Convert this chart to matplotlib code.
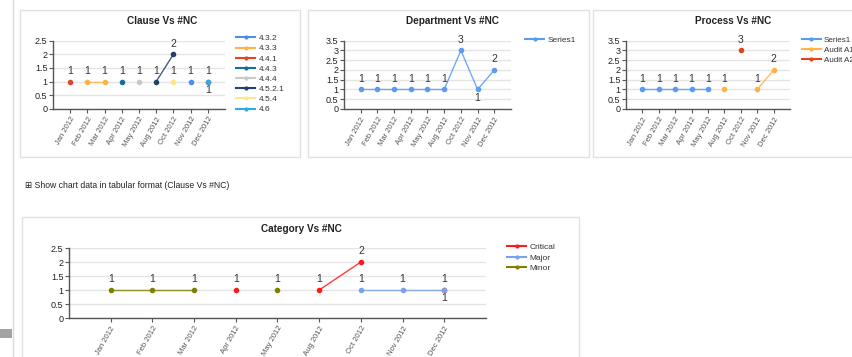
import numpy as np
import matplotlib
matplotlib.use("Agg")
import matplotlib.pyplot as plt
from matplotlib.lines import Line2D
from matplotlib.patches import Rectangle
from matplotlib.ticker import FuncFormatter

plt.rcParams['font.family'] = ['Liberation Sans', 'DejaVu Sans']

W, H = 853, 357
nan = np.nan

months = ["Jan 2012", "Feb 2012", "Mar 2012", "Apr 2012", "May 2012",
          "Aug 2012", "Oct 2012", "Nov 2012", "Dec 2012"]

# Clause Vs #NC
clause_names = ["4.3.2", "4.3.3", "4.4.1", "4.4.3", "4.4.4", "4.5.2.1", "4.5.4", "4.6"]
clause_432 = [nan, nan, nan, nan, nan, nan, nan, 1, nan]
clause_433 = [nan, 1, 1, nan, nan, nan, nan, nan, nan]
clause_441 = [1, nan, nan, nan, nan, nan, nan, nan, 1]
clause_443 = [nan, nan, nan, 1, nan, nan, nan, nan, nan]
clause_444 = [nan, nan, nan, nan, 1, nan, nan, nan, nan]
clause_4521 = [nan, nan, nan, nan, nan, 1, 2, nan, nan]
clause_454 = [nan, nan, nan, nan, nan, nan, 1, nan, nan]
clause_46 = [nan, nan, nan, nan, nan, nan, nan, nan, 1]

# Department Vs #NC
dept_names = ["Series1"]
dept_series1 = [1, 1, 1, 1, 1, 1, 3, 1, 2]

# Process Vs #NC
process_names = ["Series1", "Audit A1", "Audit A2"]
process_series1 = [1, 1, 1, 1, 1, nan, nan, nan, nan]
process_a1 = [nan, nan, nan, nan, nan, 1, nan, 1, 2]
process_a2 = [nan, nan, nan, nan, nan, nan, 3, nan, nan]

# Category Vs #NC
category_names = ["Critical", "Major", "Minor"]
category_critical = [nan, nan, nan, 1, nan, 1, 2, nan, 1]
category_major = [nan, nan, nan, nan, nan, nan, 1, 1, 1]
category_minor = [1, 1, 1, nan, 1, nan, nan, nan, nan]

clause_colors = ["#4a8ff0", "#ffb347", "#e8451e", "#12709e", "#c9c9c9",
                 "#243f6b", "#fde68c", "#2fa9ea"]
dept_colors = ["#5b9bf2"]
process_colors = ["#5b9bf2", "#ffb347", "#e0451c"]
category_colors = ["#ff1a1a", "#7aa2ee", "#808000"]

fig = plt.figure(figsize=(W / 100, H / 100), dpi=100)
fig.patch.set_facecolor("white")


def fx(x):
    return x / W


def fy(y):
    return 1 - y / H


def box(x0, y0, x1, y1, color="#e2e2e2"):
    fig.patches.append(Rectangle((fx(x0), fy(y1)), fx(x1) - fx(x0), fy(y0) - fy(y1),
                                 transform=fig.transFigure, fill=False,
                                 edgecolor=color, linewidth=1.0))


# page furniture
fig.add_artist(Line2D([fx(13), fx(13)], [0, 1], color="#dcdcdc", lw=1.0))
fig.patches.append(Rectangle((0, fy(338)), fx(12), fy(329) - fy(338),
                             transform=fig.transFigure, facecolor="#a3a3a3",
                             edgecolor="none"))
box(20, 10, 300, 157)
box(308, 10, 589, 157)
box(593, 10, 860, 157)
box(22, 217, 579, 370)

fig.text(fx(25), fy(185), "\u229e Show chart data in tabular format (Clause Vs #NC)",
         fontsize=6.2, color="#222222", va="center", ha="left",
         family=["Liberation Sans", "DejaVu Sans"])


def panel(l, r, t, b, ymax, title, title_xy, names, series, colors,
          below, leg_xy, leg_size=6, line_w=1.0):
    ax = fig.add_axes([fx(l), fy(b), fx(r) - fx(l), fy(t) - fy(b)])
    x = np.arange(1, len(months) + 1)
    for i, (vals, c) in enumerate(zip(series, colors)):
        v = np.array(vals, dtype=float)
        ax.plot(x, v, color=c, lw=line_w, alpha=0.85, zorder=3 + i * 0.01)
        ax.plot(x, v, ls="none", marker="o", ms=3.0, color=c, mec=c,
                zorder=4 + i * 0.01)
        for xi, vi in zip(x, v):
            if np.isnan(vi):
                continue
            if (i, xi - 1) in below:
                ax.annotate(f"{vi:g}", (xi, vi), xytext=(0, -2.5),
                            textcoords="offset points", ha="center", va="top",
                            fontsize=7.5, color="#333333")
            else:
                ax.annotate(f"{vi:g}", (xi, vi), xytext=(0, 4),
                            textcoords="offset points", ha="center", va="bottom",
                            fontsize=7.5, color="#333333")
    ax.set_xlim(0, len(months) + 1)
    ax.set_ylim(0, ymax)
    ax.set_yticks(np.arange(0, ymax + 0.01, 0.5))
    ax.yaxis.set_major_formatter(FuncFormatter(lambda v, p: f"{v:g}"))
    ax.set_xticks(x)
    ax.set_xticklabels(months, rotation=60, ha="right", rotation_mode="anchor",
                       fontsize=5.5, color="#333333")
    ax.tick_params(axis="y", labelsize=6.5, colors="#555555", labelcolor="#222222",
                   length=3, width=0.8, pad=1)
    ax.tick_params(axis="x", colors="#555555", length=3, width=0.8, pad=2)
    for s in ("top", "right"):
        ax.spines[s].set_visible(False)
    for s in ("left", "bottom"):
        ax.spines[s].set_color("#555555")
        ax.spines[s].set_linewidth(1.0)
    ax.grid(axis="y", color="#e4e4e4", lw=1.0, zorder=0)
    ax.set_axisbelow(True)
    ax.patch.set_alpha(0)
    fig.text(fx(title_xy[0]), fy(title_xy[1]), title, fontsize=7.2,
             fontweight="bold", ha="center", va="center", color="#222222")
    handles = [Line2D([0], [0], color=c, lw=1.5, marker="o", ms=2)
               for c in colors]
    leg = fig.legend(handles, names, loc="upper left",
                     bbox_to_anchor=(fx(leg_xy[0]), fy(leg_xy[1])),
                     frameon=False, fontsize=leg_size, handlelength=2.3,
                     handletextpad=0.4, labelspacing=0.28, borderpad=0,
                     borderaxespad=0)
    for t in leg.get_texts():
        t.set_color("#333333")
    return ax


panel(53, 225, 40.7, 108.7, 2.5, "Clause Vs #NC", (162, 21), clause_names,
      [clause_432, clause_433, clause_441, clause_443, clause_444, clause_4521,
       clause_454, clause_46], clause_colors, {(2, 8)}, (236, 34.5))

panel(344, 511, 40.7, 109, 3.5, "Department Vs #NC", (452, 21), dept_names,
      [dept_series1], dept_colors, {(0, 7)}, (525, 36.5))

panel(626, 790, 40.7, 109, 3.5, "Process Vs #NC", (733, 21), process_names,
      [process_series1, process_a1, process_a2], process_colors, set(),
      (802, 36.5), leg_size=5.8)

panel(69, 486, 248, 318, 2.5, "Category Vs #NC", (301, 229), category_names,
      [category_critical, category_major, category_minor], category_colors,
      {(0, 8)}, (507, 243.5))

fig.savefig("out.png", dpi=100)
